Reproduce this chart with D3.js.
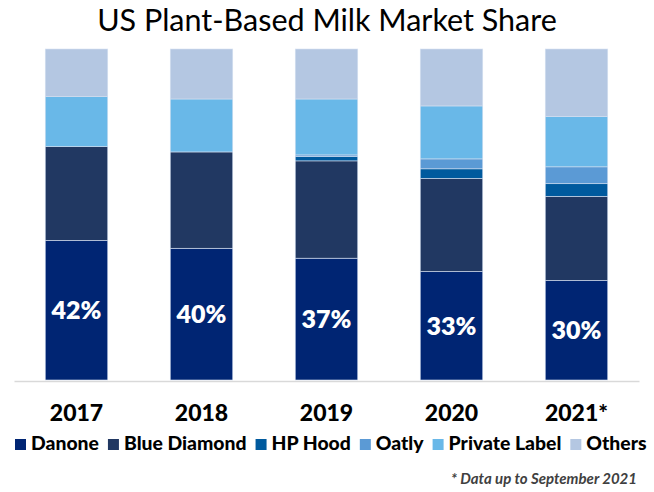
<!DOCTYPE html>
<html>
<head>
<meta charset="utf-8">
<script src="https://cdn.jsdelivr.net/npm/d3@7"></script>
<style>
  body { margin: 0; background: #fff; }
  svg { display: block; font-family: Lato, "Open Sans", sans-serif; }
</style>
</head>
<body>
<div id="chart"></div>
<script>
// market share (%) by year
const years = ['2017', '2018', '2019', '2020', '2021']
const yearLabels = ['2017', '2018', '2019', '2020', '2021*']
const brands = ['Danone', 'Blue Diamond', 'HP Hood', 'Oatly', 'Private Label', 'Others']
const danone = [42.2, 39.8, 36.8, 32.8, 30.1]
const blueDiamond = [28.3, 29.1, 29.4, 28.1, 25.4]
const hpHood = [0, 0, 1.3, 2.9, 3.8]
const oatly = [0, 0, 0.5, 3.0, 5.1]
const privateLabel = [15.1, 16.0, 16.9, 16.0, 15.2]
const others = [14.4, 15.1, 15.1, 17.2, 20.4]
const colors = ['#002573', '#213862', '#005a9e', '#5b9ad5', '#69b8e8', '#b4c7e2']

const seriesValues = [danone, blueDiamond, hpHood, oatly, privateLabel, others]
const rows = years.map((y, i) => {
  const r = { year: y }
  brands.forEach((b, j) => { r[b] = seriesValues[j][i] })
  return r
})

const width = 654
const height = 492

const svg = d3.select('#chart').append('svg')
  .attr('width', width).attr('height', height)

const x = d3.scaleBand().domain(years).range([14, 639]).paddingInner(0.5).paddingOuter(0.25)
const y = d3.scaleLinear().domain([0, 100]).range([380, 49])
const color = d3.scaleOrdinal().domain(brands).range(colors)

// Title, squeezed to the reference width
const title = svg.append('text')
  .attr('x', width / 2).attr('y', 31)
  .attr('text-anchor', 'middle')
  .style('font-size', '31px').style('font-weight', '400').attr('fill', '#000')
  .text('US Plant-Based Milk Market Share')
const tw = title.node().getComputedTextLength()
title.style('font-size', `${31 * 460 / tw}px`)

// Stacked bars
const stack = d3.stack().keys(brands)(rows)
const layers = svg.append('g').selectAll('g').data(stack).join('g')
  .attr('fill', d => color(d.key))
layers.selectAll('rect').data(d => d).join('rect')
  .attr('x', d => x(d.data.year))
  .attr('width', x.bandwidth())
  .attr('y', d => y(d[1]))
  .attr('height', d => Math.max(0, y(d[0]) - y(d[1])))
  .attr('stroke', '#d6e0f0').attr('stroke-width', 0.6)

// Danone share labels
svg.append('g').selectAll('text').data(stack[0]).join('text')
  .attr('x', d => x(d.data.year) + x.bandwidth() / 2)
  .attr('y', d => (y(d[0]) + y(d[1])) / 2)
  .attr('dy', '0.36em')
  .attr('text-anchor', 'middle')
  .attr('fill', '#fff')
  .style('font-size', '25px').style('font-weight', '800')
  .text(d => `${Math.round(d[1] - d[0])}%`)

// Axis
const axis = svg.append('g').attr('transform', `translate(0,${y(0) + 1})`)
  .call(d3.axisBottom(x).tickSize(0).tickPadding(24).tickFormat((d, i) => yearLabels[i]))
axis.select('.domain').attr('stroke', '#d9d9d9').attr('stroke-width', 1.5)
axis.selectAll('text')
  .attr('fill', '#000')
  .style('font-family', 'Lato, sans-serif')
  .style('font-size', '23px').style('font-weight', '900')

// Legend, fitted to span x 15..647
const legend = svg.append('g').attr('transform', 'translate(0,450)')
const items = brands.map(b => {
  const g = legend.append('g')
  g.append('rect').attr('y', -11).attr('width', 11).attr('height', 11).attr('fill', color(b))
  const t = g.append('text').attr('x', 16)
    .style('font-size', '19px').style('font-weight', '900').attr('fill', '#000')
    .text(b)
  return { g, t }
})
const gap = 9
const textW = () => d3.sum(items, d => d.t.node().getComputedTextLength())
const fixed = items.length * 16 + gap * (items.length - 1)
const fs = 19 * (632 - fixed) / textW()
items.forEach(d => d.t.style('font-size', `${fs}px`))
let lx = 15
items.forEach(d => {
  d.g.attr('transform', `translate(${lx},0)`)
  lx += 16 + d.t.node().getComputedTextLength() + gap
})

// Footnote
svg.append('text')
  .attr('x', 637).attr('y', 484)
  .attr('text-anchor', 'end')
  .attr('fill', '#404040')
  .style('font-size', '15px').style('font-weight', '700').style('font-style', 'italic')
  .text('* Data up to September 2021')
</script>
</body>
</html>
